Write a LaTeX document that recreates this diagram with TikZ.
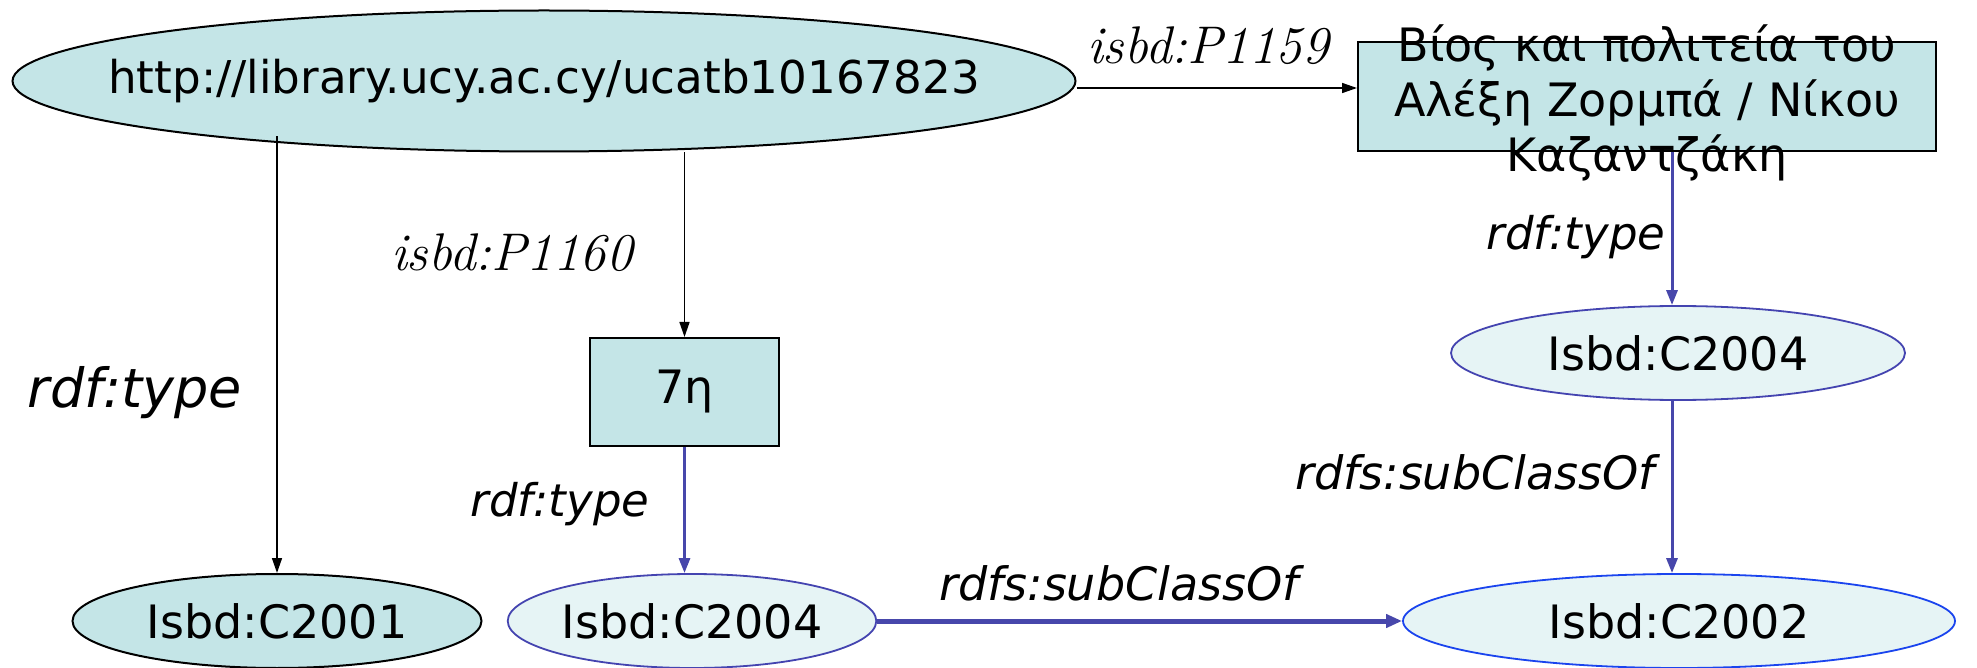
\documentclass[tikz,border=0pt]{standalone}
\usepackage{fontspec}
\usetikzlibrary{shapes.geometric,arrows.meta}
\newfontfamily\vf{DejaVu Sans}
\definecolor{teal1}{HTML}{C4E5E7}
\definecolor{light1}{HTML}{E6F4F5}
\definecolor{arrblue}{HTML}{4747AB}
\definecolor{ellblue}{HTML}{4444B0}
\definecolor{brblue}{HTML}{1A44EE}
\tikzset{
  x=0.5pt, y=-0.5pt,
  nodetext/.style={font=\vf\fontsize{23}{27.5}\selectfont, inner sep=0pt},
  darkell/.style={nodetext, ellipse, draw=black, line width=1pt, fill=teal1},
  lightell/.style={nodetext, ellipse, draw=ellblue, line width=0.9pt, fill=light1},
  darkbox/.style={nodetext, rectangle, draw=black, line width=1pt, fill=teal1},
  serlab/.style={font=\itshape\fontsize{26.5}{30}\selectfont, inner sep=0pt},
  sanlab/.style={font=\vf\itshape\fontsize{22.5}{27}\selectfont, inner sep=0pt},
  blackarr/.style={line width=0.75pt, -{Triangle[length=7.5pt,width=5pt]}},
  bluearr/.style={draw=arrblue, line width=1.5pt, -{Triangle[length=7.5pt,width=5.5pt]}},
  thickarr/.style={draw=arrblue, line width=2.5pt, -{Triangle[length=8pt,width=6.5pt]}},
}
\begin{document}
\begin{tikzpicture}
\useasboundingbox (0,0) rectangle (1977,668);
% nodes
\node[darkell, minimum width=531.5pt, minimum height=70.5pt] (top) at (544,81) {};
\node[nodetext, font=\vf\fontsize{22.6}{27}\selectfont] (toptext) at (544,81) {http://library.ucy.ac.cy/ucatb10167823};
\node[darkbox, minimum width=289pt, minimum height=54.5pt] (box) at (1647,96.5) {};
\node[nodetext, align=center] (boxtext) at (1647,103) {Βίος και πολιτεία του\\Αλέξη Ζορμπά / Νίκου\\Καζαντζάκη};
\node[darkbox, minimum width=94.5pt, minimum height=54pt] (h7) at (684.5,392) {7η};
\node[darkell, minimum width=204.5pt, minimum height=47pt] (c2001) at (277,621) {Isbd:C2001};
\node[lightell, minimum width=181pt, minimum height=47pt] (c2004a) at (692,621) {Isbd:C2004};
\node[lightell, draw=brblue, minimum width=276pt, minimum height=47pt] (c2002) at (1679,621) {Isbd:C2002};
\node[lightell, minimum width=227pt, minimum height=47pt] (c2004b) at (1678,353) {Isbd:C2004};
% labels
\node[serlab] (lP1159) at (1208,46) {isbd:P1159};
\node[serlab] (lP1160) at (512,253) {isbd:P1160};
\node[sanlab, font=\vf\itshape\fontsize{27}{30}\selectfont] (lt1) at (135,393) {rdf:type};
\node[sanlab] (lt2) at (560,504) {rdf:type};
\node[sanlab] (lt3) at (1576,237) {rdf:type};
\node[sanlab, font=\vf\itshape\fontsize{23}{27}\selectfont] (lsub1) at (1119,583) {rdfs:subClassOf};
\node[sanlab, font=\vf\itshape\fontsize{23}{27}\selectfont] (lsub2) at (1475,472) {rdfs:subClassOf};
% connectors
\draw[blackarr] ([yshift=-3.5pt]top.east) -- ([yshift=4.25pt]box.west);
\draw[blackarr] (h7.north |- top.south) -- (h7.north);
\draw[blackarr] ([yshift=8pt]c2001.north |- top.south) -- (c2001.north);
\draw[bluearr] (h7.south) -- (h7.south |- c2004a.north);
\draw[bluearr] ([xshift=-3pt]c2004b.north |- box.south) -- ([xshift=-3pt]c2004b.north);
\draw[bluearr] ([xshift=-3pt]c2004b.south) -- ([xshift=-3pt]c2004b.south |- c2002.north);
\draw[thickarr] (c2004a.east) -- (c2002.west);
\end{tikzpicture}
\end{document}
